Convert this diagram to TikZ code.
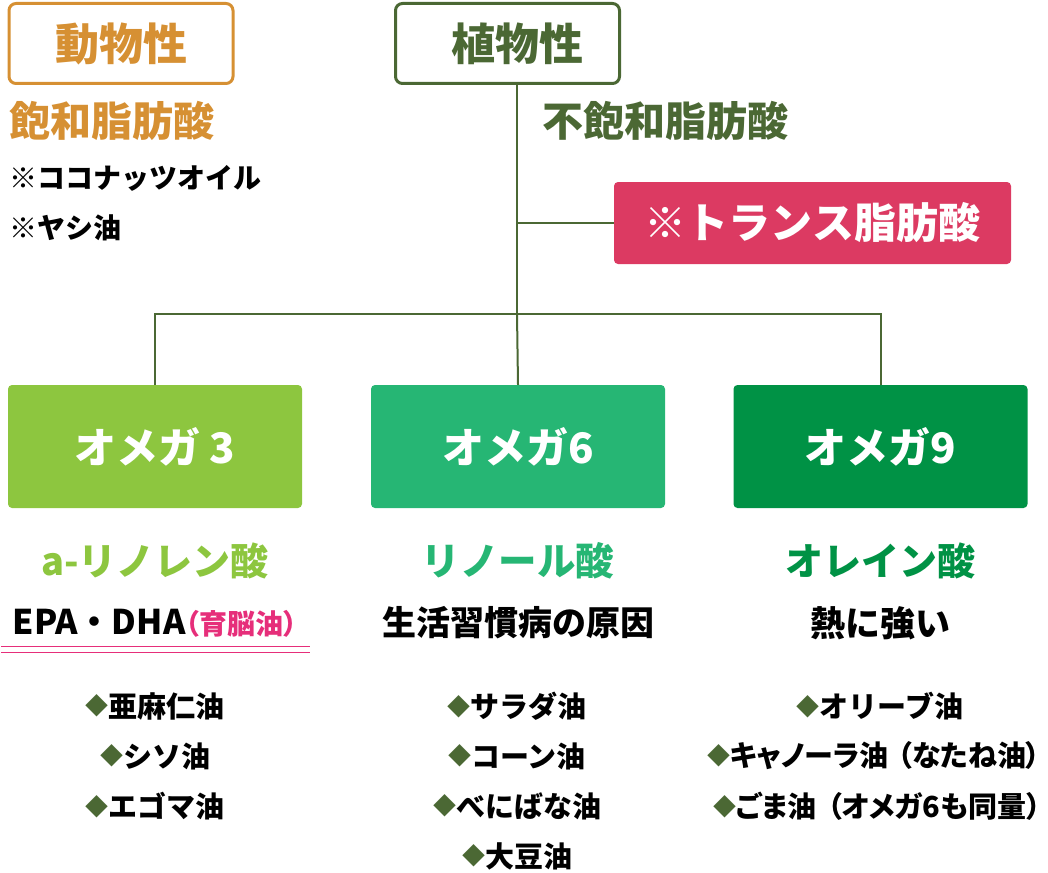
\documentclass[tikz,border=0pt]{standalone}
\usepackage{fontspec}
\setmainfont{Noto Sans CJK JP}
\newfontfamily\tight{Noto Sans CJK JP}[RawFeature=+palt]
\definecolor{animal}{RGB}{214,144,51}
\definecolor{plant}{RGB}{75,104,52}
\definecolor{trans}{RGB}{220,58,98}
\definecolor{omegaA}{RGB}{141,198,63}
\definecolor{omegaB}{RGB}{38,182,116}
\definecolor{omegaC}{RGB}{0,146,69}
\definecolor{brain}{RGB}{230,46,122}
\def\fs#1{\fontsize{#1}{#1}\selectfont\bfseries}
\def\dia{\raisebox{2.2pt}{\fontsize{23}{23}\selectfont\color{plant}◆}}

\begin{document}
\begin{tikzpicture}[x=1pt,y=-1pt,
		kind/.style={draw, line width=3pt, rounded corners=7pt, minimum width=224pt, minimum height=80pt, inner sep=0pt},
		omega/.style={rounded corners=4pt, minimum width=294pt, minimum height=123pt, inner sep=0pt, text=white, font=\fs{42}},
		word/.style={inner sep=0pt, font=\fs{#1}},
		item/.style={inner sep=0pt, font=\fs{29}},
		link/.style={line width=2pt, color=plant}]
			%%%%% START %%%%%
			
			\useasboundingbox (0,0) rectangle (1048,872);
			
			\node[kind, draw=animal] (animal) at (121,43.5) {};
			\node[word=44, text=animal] (animalT) at (121,43.5) {動物性};
			\node[word=41, text=animal, anchor=west] (sat) at (9,121) {飽和脂肪酸};
			\node[word=28, anchor=west] (coco) at (9,178) {※ココナッツオイル};
			\node[word=28, anchor=west] (palm) at (9,228) {※ヤシ油};
			
			\node[kind, draw=plant] (plant) at (507.5,43.5) {};
			\node[word=44, text=plant] (plantT) at (517.5,43.5) {植物性};
			\node[word=41, text=plant, anchor=west] (unsat) at (542,121) {不飽和脂肪酸};
			\node[fill=trans, rounded corners=4pt, minimum width=397pt, minimum height=82pt, text=white, font=\fs{42}] (trans) at (812.5,223) {※トランス脂肪酸};
			
			\node[omega, fill=omegaA] (o3) at (155,446.5) {オメガ 3};
			\node[omega, fill=omegaB] (o6) at (518,446.5) {オメガ6};
			\node[omega, fill=omegaC] (o9) at (880.5,446.5) {オメガ9};
			
			\coordinate (fork) at (517,223);
			\coordinate (bar) at (517,314);
			\draw[link] (517,85) -- (bar);
			\draw[link] (fork) -- (trans.west);
			\draw[link] (bar) -- (o6.north);
			\draw[link] (bar) -| (o3.north);
			\draw[link] (bar) -| (o9.north);
			
			\node[word=38, text=omegaA] (ala) at (155,561) {a-リノレン酸};
			\node[word=38.5, text=omegaB] (la) at (518,561) {リノール酸};
			\node[word=38, text=omegaC] (oa) at (880.5,561) {オレイン酸};
			
			\node[word=34] (epa) at (155,623) {EPA・DHA{\tight\fontsize{28}{28}\selectfont\color{brain}（育脳油）}};
			\draw[line width=1.6pt, color=brain] (1,646.5) -- (310,646.5) (1,652.5) -- (310,652.5);
			\node[word=34] (cause) at (518,623) {生活習慣病の原因};
			\node[word=35] (heat) at (880.5,623) {熱に強い};
			
			\node[item] (a1) at (155,706) {\dia 亜麻仁油};
			\node[item] (a2) at (155,756) {\dia シソ油};
			\node[item] (a3) at (155,806) {\dia エゴマ油};
			
			\node[item] (b1) at (517,706) {\dia サラダ油};
			\node[item] (b2) at (517,756) {\dia コーン油};
			\node[item] (b3) at (517,806) {\dia べにばな油};
			\node[item] (b4) at (517,856) {\dia 大豆油};
			
			\node[item] (c1) at (880,706) {\dia オリーブ油};
			\node[item, anchor=west] (c2) at (707,756) {\dia {\tight キャノーラ油\hspace{9pt}（なたね油）}};
			\node[item, anchor=west] (c3) at (713,806) {\dia {\tight ごま油\hspace{11pt}（オメガ6も同量）}};
			
			%%%%% END %%%%%
\end{tikzpicture}
\end{document}
